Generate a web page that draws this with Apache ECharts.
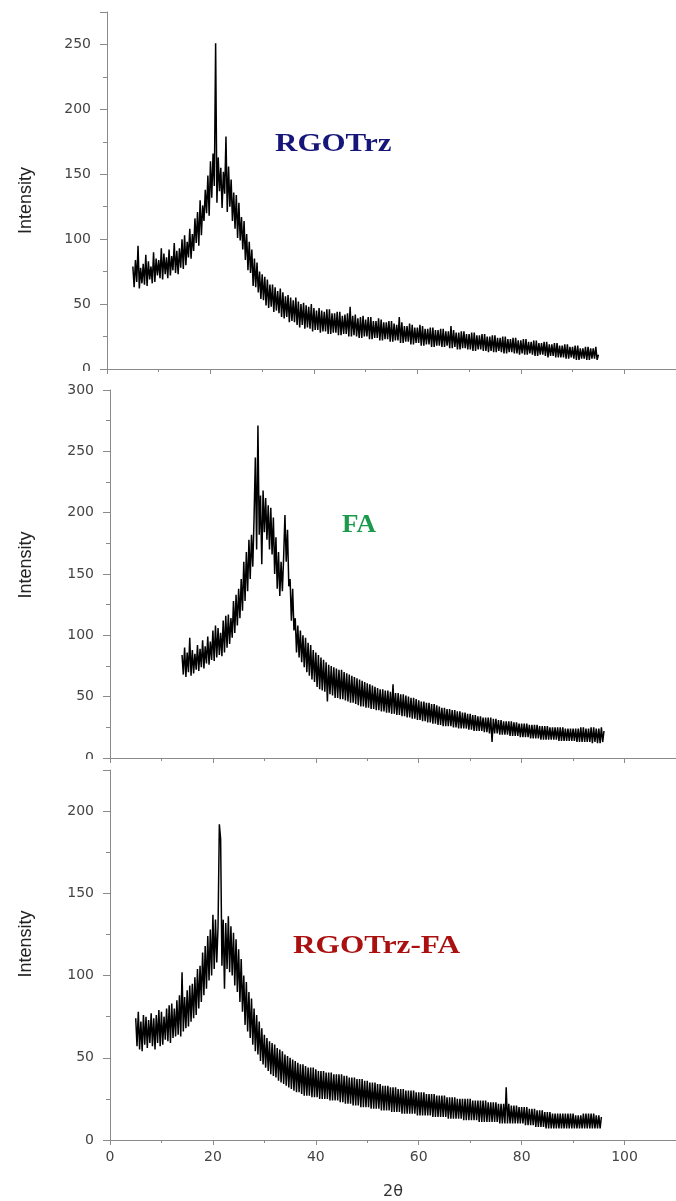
<!DOCTYPE html>
<html><head><meta charset="utf-8">
<script src="https://cdn.jsdelivr.net/npm/echarts@6/dist/echarts.min.js"></script>
<style>html,body{margin:0;padding:0;background:#fff}#c{width:676px;height:1201px}</style>
</head><body><div id="c"></div>
<script>
const sampleNames = ['RGOTrz', 'FA', 'RGOTrz-FA'];
const xAxisRange = [0, 110];
const xAxisInterval = 20;
const yAxisMax = [275, 300, 225];
const yAxisInterval = 50;
const yAxisName = 'Intensity';
const xAxisName = '2θ';

// RGOTrz: 2θ = 5.00 ... 95.00
const rgoStart = 5.0, rgoStep = 0.25;
const rgoValues = [
  79, 63, 84, 67,  95, 62, 78, 66,  81, 65, 88, 64,  83, 69, 79, 66,  90, 67, 85, 72,
  84, 70, 93, 69,  89, 73, 86, 70,  92, 72, 87, 76,  97, 74, 91, 73,  93, 78, 100, 77,
  103, 80, 98, 86,  108, 85, 104, 91,  116, 97, 121, 95,  130, 103, 126, 114,  138, 120, 149, 118,
  160, 132, 166, 141,  251, 128, 163, 137,  155, 124, 152, 135,  179, 121, 156, 125,  146, 114, 136, 108,
  134, 101, 128, 99,  117, 92, 114, 84,  104, 76, 98, 74,  92, 64, 85, 63,  82, 59, 75, 54,
  73, 53, 71, 49,  69, 47, 65, 48,  65, 44, 63, 45,  60, 43, 62, 40,  59, 39, 56, 40,
  57, 36, 55, 37,  53, 36, 55, 34,  52, 32, 50, 34,  51, 31, 49, 32,  48, 31, 50, 29,
  47, 30, 45, 30,  47, 28, 45, 29,  44, 29, 46, 27,  46, 27, 43, 28,  43, 28, 44, 26,
  44, 26, 41, 27,  42, 27, 43, 25,  48, 25, 41, 26,  42, 25, 39, 24,  40, 24, 41, 25,
  38, 25, 40, 23,  40, 23, 37, 24,  37, 24, 39, 22,  38, 22, 36, 23,  36, 23, 37, 21,
  37, 21, 35, 22,  34, 22, 40, 20,  36, 20, 33, 21,  33, 21, 35, 19,  34, 19, 32, 20,
  32, 20, 34, 18,  33, 18, 31, 19,  31, 19, 32, 17,  32, 17, 30, 18,  30, 18, 31, 17,
  31, 17, 29, 18,  29, 16, 33, 16,  30, 17, 28, 15,  28, 15, 29, 16,  29, 16, 27, 15,
  27, 15, 28, 14,  28, 14, 26, 15,  26, 15, 27, 14,  27, 14, 25, 13,  25, 14, 26, 13,
  26, 13, 24, 14,  24, 13, 25, 12,  25, 12, 23, 13,  23, 13, 24, 12,  24, 12, 22, 11,
  22, 12, 23, 11,  23, 11, 21, 12,  21, 11, 22, 10,  22, 10, 20, 11,  20, 11, 21, 10,
  21, 9, 19, 10,  19, 10, 20, 9,  20, 9, 18, 9,  18, 9, 19, 8,  19, 8, 17, 9,
  17, 8, 18, 7,  18, 7, 16, 8,  16, 8, 17, 7,  17, 7, 16, 8,  16, 8, 17, 7,
  11
];

// FA: 2θ = 14.00 ... 96.00
const faStart = 14.0, faStep = 0.25;
const faValues = [
  84, 68, 90, 66,  86, 70, 98, 67,  88, 69, 85, 72,  92, 71, 89, 74,  96, 73, 91, 77,
  99, 76, 95, 80,  104, 79, 108, 82,  106, 84, 102, 83,  112, 86, 116, 90,  117, 93, 114, 98,
  128, 102, 133, 108,  138, 114, 146, 120,  160, 128, 168, 136,  178, 146, 182, 156,  196, 245, 170, 271,
  182, 214, 158, 218,  184, 212, 178, 206,  170, 204, 166, 196,  150, 180, 138, 168,  132, 160, 136, 164,
  198, 160, 186, 140,  146, 112, 138, 104,  114, 86, 108, 82,  104, 78, 100, 74,  98, 70, 94, 67,
  92, 64, 88, 62,  86, 58, 84, 56,  82, 55, 80, 54,  78, 46, 76, 52,  75, 51, 74, 49,
  73, 49, 72, 48,  72, 48, 70, 47,  69, 46, 68, 45,  67, 45, 66, 44,  65, 43, 64, 42,
  63, 42, 62, 41,  61, 41, 60, 40,  59, 40, 58, 39,  57, 39, 56, 38,  56, 38, 55, 37,
  55, 37, 54, 36,  60, 36, 53, 35,  53, 35, 52, 34,  52, 34, 51, 33,  50, 33, 49, 32,
  49, 32, 48, 31,  47, 31, 46, 30,  46, 30, 45, 29,  45, 29, 44, 28,  44, 28, 43, 27,
  42, 27, 41, 26,  41, 26, 40, 26,  40, 26, 39, 25,  39, 25, 38, 24,  38, 24, 37, 24,
  37, 24, 36, 23,  36, 23, 35, 22,  35, 22, 34, 22,  34, 22, 33, 21,  33, 21, 33, 20,
  33, 13, 32, 20,  32, 20, 31, 19,  31, 19, 30, 19,  30, 19, 30, 18,  30, 18, 29, 18,
  29, 18, 28, 17,  28, 17, 28, 17,  28, 17, 27, 16,  27, 16, 27, 16,  27, 16, 26, 15,
  26, 15, 26, 15,  26, 15, 25, 15,  25, 15, 25, 15,  25, 14, 25, 14,  25, 14, 24, 14,
  24, 14, 24, 14,  24, 14, 24, 13,  24, 13, 25, 13,  25, 13, 24, 13,  24, 13, 25, 12,
  25, 13, 24, 12,  24, 12, 25, 13,
  22
];

// RGOTrz-FA: 2θ = 5.00 ... 95.50
const mixStart = 5.0, mixStep = 0.25;
const mixValues = [
  74, 57, 78, 55,  72, 54, 76, 58,  75, 56, 73, 59,  77, 57, 74, 55,  76, 59, 79, 57,
  78, 58, 75, 61,  80, 60, 82, 59,  83, 62, 80, 63,  85, 64, 88, 63,  102, 66, 87, 68,
  91, 69, 94, 72,  95, 74, 99, 76,  104, 80, 106, 84,  114, 88, 118, 92,  124, 97, 128, 100,
  137, 104, 134, 108,  130, 192, 183, 106,  134, 92, 132, 104,  136, 102, 130, 100,  126, 94, 122, 90,
  116, 84, 110, 78,  100, 70, 96, 66,  90, 62, 86, 58,  80, 54, 76, 52,  72, 48, 68, 46,
  64, 44, 62, 42,  60, 40, 59, 39,  58, 38, 56, 36,  55, 35, 54, 34,  52, 33, 51, 32,
  50, 31, 49, 30,  48, 29, 47, 29,  46, 28, 46, 27,  45, 27, 44, 27,  44, 26, 44, 26,
  43, 26, 42, 25,  42, 25, 42, 25,  41, 25, 41, 24,  41, 24, 40, 24,  40, 24, 40, 23,
  40, 23, 39, 22,  39, 22, 38, 22,  38, 21, 38, 21,  37, 21, 37, 20,  37, 20, 36, 20,
  36, 20, 35, 19,  35, 19, 35, 19,  34, 19, 34, 18,  33, 18, 33, 18,  33, 18, 32, 17,
  32, 17, 32, 17,  31, 17, 31, 16,  31, 16, 30, 16,  30, 16, 30, 16,  30, 16, 29, 15,
  29, 15, 29, 15,  29, 15, 28, 15,  28, 15, 28, 14,  28, 14, 27, 14,  27, 14, 27, 14,
  27, 14, 26, 13,  26, 13, 26, 13,  26, 13, 25, 13,  25, 13, 25, 12,  25, 12, 25, 12,
  25, 12, 24, 12,  24, 12, 24, 11,  24, 11, 24, 11,  24, 11, 23, 11,  23, 11, 23, 11,
  23, 11, 22, 10,  22, 10, 22, 10,  32, 10, 22, 10,  21, 10, 21, 10,  21, 10, 20, 10,
  20, 10, 20, 9,  20, 9, 19, 9,  19, 9, 19, 8,  18, 8, 18, 8,  18, 8, 17, 7,
  17, 7, 17, 7,  16, 7, 16, 7,  16, 7, 16, 7,  16, 7, 16, 7,  16, 7, 16, 7,
  16, 7, 15, 7,  15, 7, 15, 7,  16, 7, 16, 7,  16, 7, 16, 7,  16, 7, 15, 7,
  15, 7, 14
];

const labelColors = ['#16167a', '#1c9a4c', '#aa1010'];

// ---- chart ----
const toPairs = (start, step, vals) => vals.map((v, i) => [+(start + i * step).toFixed(2), v]);
const seriesData = [
  toPairs(rgoStart, rgoStep, rgoValues),
  toPairs(faStart, faStep, faValues),
  toPairs(mixStart, mixStep, mixValues)
];

const grids = [
  { left: 107, top: 12, width: 572, height: 357 },
  { left: 110, top: 390, width: 572, height: 368 },
  { left: 110, top: 770, width: 572, height: 372 }
];
const axisGray = '#8a8a8a';
const tickFont = { color: '#444', fontFamily: 'DejaVu Sans', fontSize: 14 };

const xAxes = grids.map((g, i) => ({
  type: 'value', gridIndex: i, min: xAxisRange[0], max: xAxisRange[1], interval: xAxisInterval,
  name: i === 2 ? xAxisName : '', nameLocation: 'middle', nameGap: 44,
  nameTextStyle: { color: '#333', fontFamily: 'DejaVu Sans', fontSize: 16 },
  axisLine: { onZero: false, lineStyle: { color: axisGray, width: 1 } },
  axisTick: { show: true, length: 5, lineStyle: { color: axisGray } },
  minorTick: { show: true, splitNumber: 2, length: 3, lineStyle: { color: axisGray } },
  axisLabel: Object.assign({ show: i === 2, margin: 10, showMaxLabel: false }, tickFont),
  splitLine: { show: false }
}));

const namePads = [[0, 20, 0, 0], [0, 0, 0, 18], [0, 0, 0, 22]];
const nameGaps = [72, 75, 75];
const yAxes = grids.map((g, i) => ({
  type: 'value', gridIndex: i, min: 0, max: yAxisMax[i], interval: yAxisInterval,
  name: yAxisName, nameLocation: 'middle', nameGap: nameGaps[i],
  nameTextStyle: { color: '#222', fontFamily: 'Liberation Sans', fontSize: 18, padding: namePads[i] },
  axisLine: { show: true, lineStyle: { color: axisGray, width: 1 } },
  axisTick: { show: true, length: 7, lineStyle: { color: axisGray } },
  minorTick: { show: true, splitNumber: 2, length: 4, lineStyle: { color: axisGray } },
  axisLabel: Object.assign({ margin: 16, showMaxLabel: i === 1 }, tickFont),
  splitLine: { show: false }
}));

const series = seriesData.map((d, i) => ({
  name: sampleNames[i], type: 'line', xAxisIndex: i, yAxisIndex: i,
  data: d, showSymbol: false, symbol: 'none', smooth: false, sampling: null,
  lineStyle: { color: '#000', width: 1.5 }, z: 3
}));

const labelPos = [[275, 145, 1.24], [342, 526, 1.08], [293, 947, 1.25]];
const graphic = sampleNames.map((t, i) => ({
  type: 'text', x: labelPos[i][0], y: labelPos[i][1], scaleX: labelPos[i][2], z: 50,
  style: { text: t, fill: labelColors[i], font: 'bold 25px "Liberation Serif", "Times New Roman", serif',
           align: 'left', verticalAlign: 'middle' }
}));
// panels were pasted over each other: lower part of the "0" labels is hidden
graphic.push({ type: 'rect', z: 60, shape: { x: 0, y: 371, width: 100, height: 13 }, style: { fill: '#fff' } });
graphic.push({ type: 'rect', z: 60, shape: { x: 0, y: 759, width: 100, height: 9 }, style: { fill: '#fff' } });

const chart = echarts.init(document.getElementById('c'), null, { renderer: 'canvas' });
chart.setOption({
  animation: false,
  backgroundColor: '#fff',
  grid: grids,
  xAxis: xAxes,
  yAxis: yAxes,
  series: series,
  graphic: graphic
});
</script>
</body></html>
